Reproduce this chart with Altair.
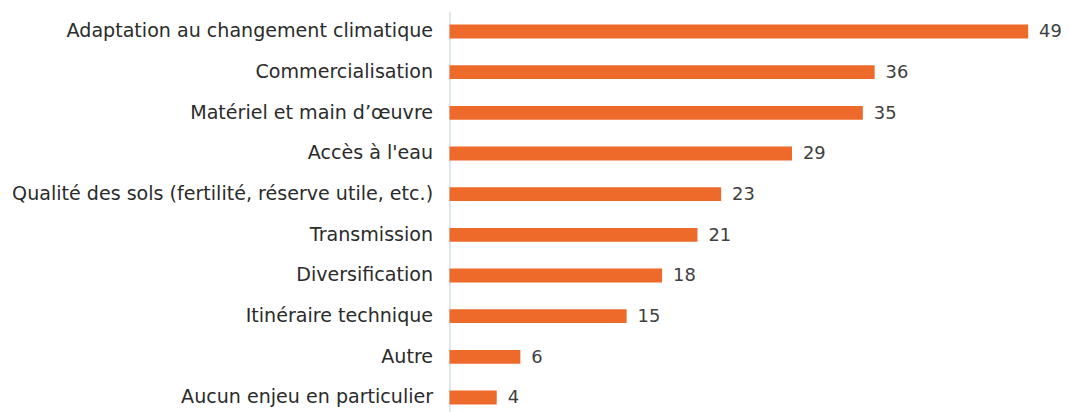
import altair as alt
import pandas as pd

categories = [
    "Adaptation au changement climatique",
    "Commercialisation",
    "Matériel et main d’œuvre",
    "Accès à l'eau",
    "Qualité des sols (fertilité, réserve utile, etc.)",
    "Transmission",
    "Diversification",
    "Itinéraire technique",
    "Autre",
    "Aucun enjeu en particulier",
]
values = [49, 36, 35, 29, 23, 21, 18, 15, 6, 4]

df = pd.DataFrame({"cat": categories, "val": values})

FONT = "DejaVu Sans"

base = alt.Chart(df).encode(
    y=alt.Y(
        "cat:N",
        sort=categories,
        title=None,
        scale=alt.Scale(paddingInner=0.66, paddingOuter=0.33),
        axis=alt.Axis(
            labelFont=FONT,
            labelFontSize=19.2,
            labelColor="#2b2b2b",
            labelPadding=17,
            ticks=False,
            domain=True,
            domainColor="#D5DEE8",
            domainWidth=1.5,
            labelLimit=500,
        ),
    ),
    x=alt.X(
        "val:Q",
        title=None,
        scale=alt.Scale(domain=[0, 49], nice=False),
        axis=None,
    ),
)

bars = base.mark_bar(color="#EE6A2B")
labels = base.mark_text(
    align="left", baseline="middle", dx=11, dy=1, font=FONT, fontSize=18, color="#404040"
).encode(text="val:Q")

chart = (
    (bars + labels)
    .properties(
        width=582,
        height=409,
        autosize=alt.AutoSizeParams(type="none"),
        padding={"left": 444, "top": 2, "right": 33, "bottom": 0},
    )
    .configure(background="white")
    .configure_view(stroke=None)
)

chart.save("out.html", embed_options={"renderer": "svg", "actions": False})
